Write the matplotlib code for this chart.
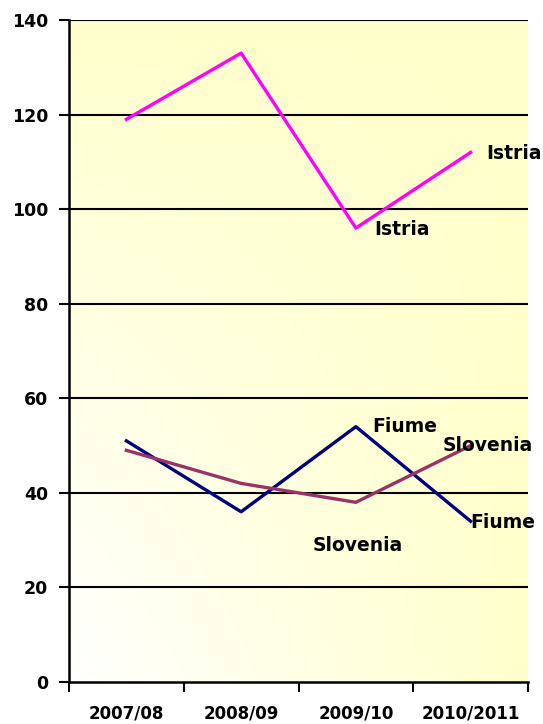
import numpy as np
import matplotlib
matplotlib.use("Agg")
import matplotlib.pyplot as plt

# ------------------------------------------- #
#  Data                                       #
# ------------------------------------------- #
seasons = ["2007/08", "2008/09", "2009/10", "2010/2011"]
istria = [119, 133, 96, 112]
fiume = [51, 36, 54, 34]
slovenia = [49, 42, 38, 50]

plt.rcParams['font.family'] = ['DejaVu Sans']

fig = plt.figure(figsize=(5.43, 7.24), dpi=100)
ax = fig.add_axes([69 / 543, 42 / 724, 459 / 543, 662 / 724])

# Background gradient: white bottom-left -> light yellow top/right
gx, gy = np.meshgrid(np.linspace(0, 1, 200), np.linspace(0, 1, 200))
t = 1 - (1 - gx) * (1 - gy)
white = np.array([1.0, 1.0, 1.0])
yellow = np.array([1.0, 1.0, 0.8])
img = white[None, None, :] * (1 - t[..., None]) + yellow[None, None, :] * t[..., None]
ax.imshow(img, extent=[-0.5, 3.5, 0, 140], origin='lower', aspect='auto', zorder=0)

x = np.arange(len(seasons))

# Gridlines
for v in range(20, 141, 20):
    ax.axhline(v, color='black', lw=1.5, zorder=1)

ax.plot(x, istria, color='#FF00FF', lw=2.4, zorder=3)
ax.plot(x, fiume, color='#000080', lw=2.4, zorder=3)
ax.plot(x, slovenia, color='#993366', lw=2.4, zorder=4)

# Data labels on the last two points
lab = dict(fontsize=13.5, fontweight='bold', zorder=5, va='center')
ax.annotate("Istria", (2, istria[2]), xytext=(13, -1), textcoords='offset points', **lab)
ax.annotate("Istria", (3, istria[3]), xytext=(11, -1), textcoords='offset points', **lab)
ax.annotate("Fiume", (2, fiume[2]), xytext=(12, 0), textcoords='offset points', **lab)
ax.annotate("Fiume", (3, fiume[3]), xytext=(0, -1), textcoords='offset points', **lab)
ax.annotate("Slovenia", (2, slovenia[2]), xytext=(1, -31), textcoords='offset points', ha='center', **lab)
ax.annotate("Slovenia", (3, slovenia[3]), xytext=(-20, 0), textcoords='offset points', **lab)

ax.set_xlim(-0.5, 3.5)
ax.set_ylim(0, 140)
ax.set_yticks(range(0, 141, 20))
ax.set_xticks(x)
ax.set_xticklabels(seasons)
ax.set_xticks(np.arange(-0.5, 3.6, 1), minor=True)

for s in ['top', 'right']:
    ax.spines[s].set_visible(False)
for s in ['left', 'bottom']:
    ax.spines[s].set_linewidth(1.8)
    ax.spines[s].set_zorder(6)

ax.tick_params(axis='y', length=7, width=1.5, labelsize=12.5, pad=8)
ax.tick_params(axis='x', which='major', length=0, labelsize=12, pad=16)
ax.tick_params(axis='x', which='minor', length=7, width=1.5)
for lbl in ax.get_xticklabels() + ax.get_yticklabels():
    lbl.set_fontweight('bold')

fig.savefig("out.png", dpi=100)
